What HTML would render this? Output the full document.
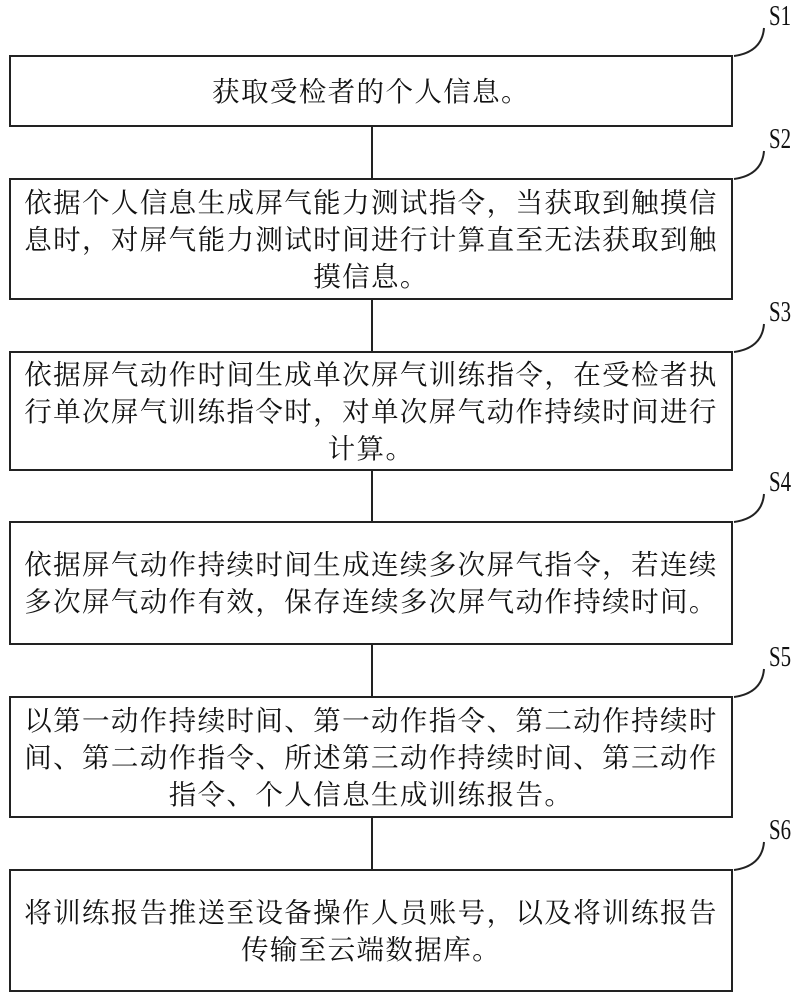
<!DOCTYPE html>
<html><head><meta charset="utf-8"><style>
body{margin:0;width:806px;height:1000px;background:#fff;position:relative;overflow:hidden;font-family:"Liberation Serif","Noto Serif CJK SC",serif;}
.b{position:absolute;left:9px;width:724px;border:2px solid #222;display:flex;align-items:center;justify-content:center;text-align:center;box-sizing:border-box;padding:0 8px;font-size:27.5px;letter-spacing:1.4px;line-height:37px;color:#111;}
.l{position:absolute;left:371px;width:2px;background:#222;}
.s{position:absolute;left:769px;font-size:29px;color:#111;transform:scaleX(0.72);transform-origin:left;}
svg{position:absolute;left:0;top:0;}
</style></head><body>
<div class="b" style="top:55px;height:72px">获取受检者的个人信息。</div>
<div class="b" style="top:178px;height:122px">依据个人信息生成屏气能力测试指令，当获取到触摸信息时，对屏气能力测试时间进行计算直至无法获取到触摸信息。</div>
<div class="b" style="top:351px;height:120px">依据屏气动作时间生成单次屏气训练指令，在受检者执行单次屏气训练指令时，对单次屏气动作持续时间进行计算。</div>
<div class="b" style="top:521px;height:124px">依据屏气动作持续时间生成连续多次屏气指令，若连续多次屏气动作有效，保存连续多次屏气动作持续时间。</div>
<div class="b" style="top:696px;height:122px">以第一动作持续时间、第一动作指令、第二动作持续时间、第二动作指令、所述第三动作持续时间、第三动作指令、个人信息生成训练报告。</div>
<div class="b" style="top:869px;height:123px">将训练报告推送至设备操作人员账号，以及将训练报告传输至云端数据库。</div>
<div class="l" style="top:127px;height:51px"></div>
<div class="l" style="top:300px;height:51px"></div>
<div class="l" style="top:471px;height:50px"></div>
<div class="l" style="top:645px;height:51px"></div>
<div class="l" style="top:818px;height:51px"></div>
<svg width="806" height="1000" fill="none" stroke="#222" stroke-width="2">
<path d="M734 56 Q762 52 764 28"/>
<path d="M734 179 Q762 175 764 151"/>
<path d="M734 352 Q762 348 764 324"/>
<path d="M734 522 Q762 518 764 494"/>
<path d="M734 697 Q762 693 764 669"/>
<path d="M734 870 Q762 866 764 842"/>
</svg>
<div class="s" style="top:0px">S1</div>
<div class="s" style="top:123px">S2</div>
<div class="s" style="top:296px">S3</div>
<div class="s" style="top:466px">S4</div>
<div class="s" style="top:641px">S5</div>
<div class="s" style="top:814px">S6</div>
</body></html>
